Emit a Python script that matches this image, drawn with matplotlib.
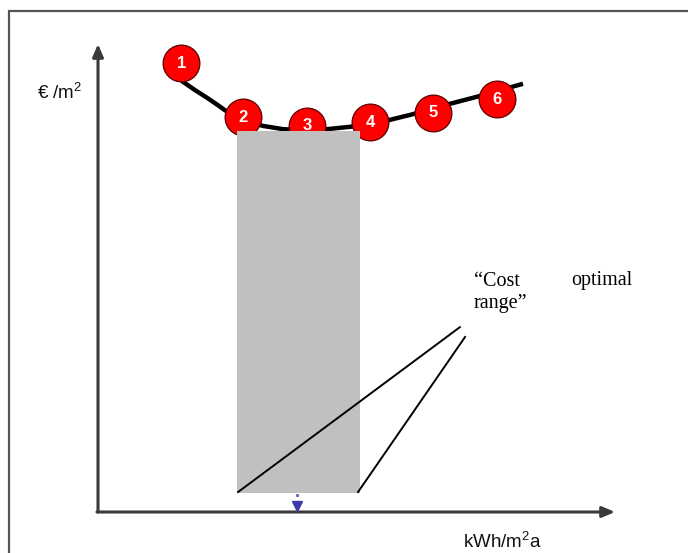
import matplotlib
matplotlib.use("Agg")
import matplotlib.pyplot as plt
from matplotlib.patches import Rectangle
from matplotlib.lines import Line2D

plt.rcParams["mathtext.fontset"] = "custom"
plt.rcParams["mathtext.rm"] = "Liberation Sans"
plt.rcParams["mathtext.it"] = "Liberation Sans"
plt.rcParams["mathtext.bf"] = "Liberation Sans:bold"

# ---- data (arbitrary schematic units: energy 0..100, cost 0..100) ----
labels = ["1", "2", "3", "4", "5", "6"]
energy = [16.1, 28.0, 40.4, 52.6, 64.8, 77.2]
cost = [95.9, 84.4, 82.5, 83.3, 85.3, 88.2]

curve_energy = [16.2, 18.7, 21.1, 23.1, 25.0, 27.5, 29.8, 31.9, 35.8, 40.0,
                44.3, 48.7, 52.6, 56.5, 60.9, 64.8, 68.7, 73.9, 78.0, 82.2]
curve_cost = [92.1, 90.2, 88.5, 87.0, 85.5, 84.2, 83.2, 82.5, 81.8, 81.6,
              81.8, 82.3, 82.9, 83.8, 85.0, 86.3, 87.4, 88.9, 90.2, 91.5]

range_energy = [26.9, 50.7]   # cost optimal range (x extent)
range_cost = [4.06, 81.4]     # bottom / top of the grey band

callout_a_energy = [27.1, 70.0]
callout_a_cost = [4.27, 39.5]
callout_b_energy = [50.3, 71.0]
callout_b_cost = [4.27, 37.4]

marker_energy = [38.5]
marker_cost = [1.28]
dot_cost = [3.6]

y_label = r"€ /m$^{2}$"
x_label = r"kWh/m$^{2}$a"
note_line1_a = "\u201cCost"
note_line1_b = "optimal"
note_line2 = "range\u201d"

# ---- figure ----
W, H = 688, 553
fig = plt.figure(figsize=(W / 100, H / 100), dpi=100)
fig.patch.set_facecolor("white")

# outer frame (left + top only)
fx = 9 / W
fy = 1 - 11 / H
fig.add_artist(Line2D([fx, fx, 1.0], [0.0, fy, fy], transform=fig.transFigure,
                      color="#555555", lw=1.6, solid_joinstyle="miter"))

ax = fig.add_axes([98 / W, (H - 512) / H, 517 / W, 468 / H])
ax.set_xlim(0, 100)
ax.set_ylim(0, 100)
ax.axis("off")

axis_col = "#3a3a3a"
# axes with arrows
ax.annotate("", xy=(0, 1), xytext=(0, 0), xycoords="axes fraction",
            arrowprops=dict(arrowstyle="-|>,head_length=0.75,head_width=0.32",
                            color=axis_col, lw=2.2, shrinkA=0, shrinkB=0),
            annotation_clip=False)
ax.annotate("", xy=(1, 0), xytext=(-0.002, 0), xycoords="axes fraction",
            arrowprops=dict(arrowstyle="-|>,head_length=0.75,head_width=0.32",
                            color=axis_col, lw=2.2, shrinkA=0, shrinkB=0),
            annotation_clip=False)

# cost curve
ax.plot(curve_energy, curve_cost, color="black", lw=3.2,
        solid_capstyle="butt", solid_joinstyle="round", zorder=2)

# numbered points
ax.scatter(energy, cost, s=700, color="#ff0000", edgecolor="#5a0000",
           linewidth=0.9, zorder=3, clip_on=False)
for lab, e, c in zip(labels, energy, cost):
    ax.text(e, c, lab, color="white", fontsize=12, fontweight="bold",
            family="Liberation Sans", ha="center", va="center", zorder=4)

# grey cost optimal range
ax.add_patch(Rectangle((range_energy[0], range_cost[0]),
                       range_energy[1] - range_energy[0],
                       range_cost[1] - range_cost[0],
                       facecolor="#c0c0c0", edgecolor="none", zorder=5))

# callout lines
ax.plot(callout_a_energy, callout_a_cost, color="black", lw=1.4, zorder=6)
ax.plot(callout_b_energy, callout_b_cost, color="black", lw=1.4, zorder=6)

# small blue marker
ax.plot(marker_energy, marker_cost, marker="v", color="#3c3ca8", ms=7,
        ls="none", zorder=6, clip_on=False)
ax.plot(marker_energy, dot_cost, marker="s", color="#6a6ac0", ms=1.2,
        ls="none", zorder=6)

# labels
fig.text(37 / W, 1 - 93 / H, y_label, fontsize=13.5, family="Liberation Sans",
         ha="left", va="center", color="#111111")
fig.text(463 / W, 1 - 542 / H, x_label, fontsize=13.5, family="Liberation Sans",
         ha="left", va="center", color="#111111")

fig.text(474 / W, 1 - 285.5 / H, note_line1_a, fontsize=14.5,
         family="Liberation Serif", ha="left", va="baseline")
fig.text(632 / W, 1 - 285.5 / H, note_line1_b, fontsize=14.5,
         family="Liberation Serif", ha="right", va="baseline")
fig.text(474 / W, 1 - 308 / H, note_line2, fontsize=14.5,
         family="Liberation Serif", ha="left", va="baseline")

fig.savefig("out.png", dpi=100)
